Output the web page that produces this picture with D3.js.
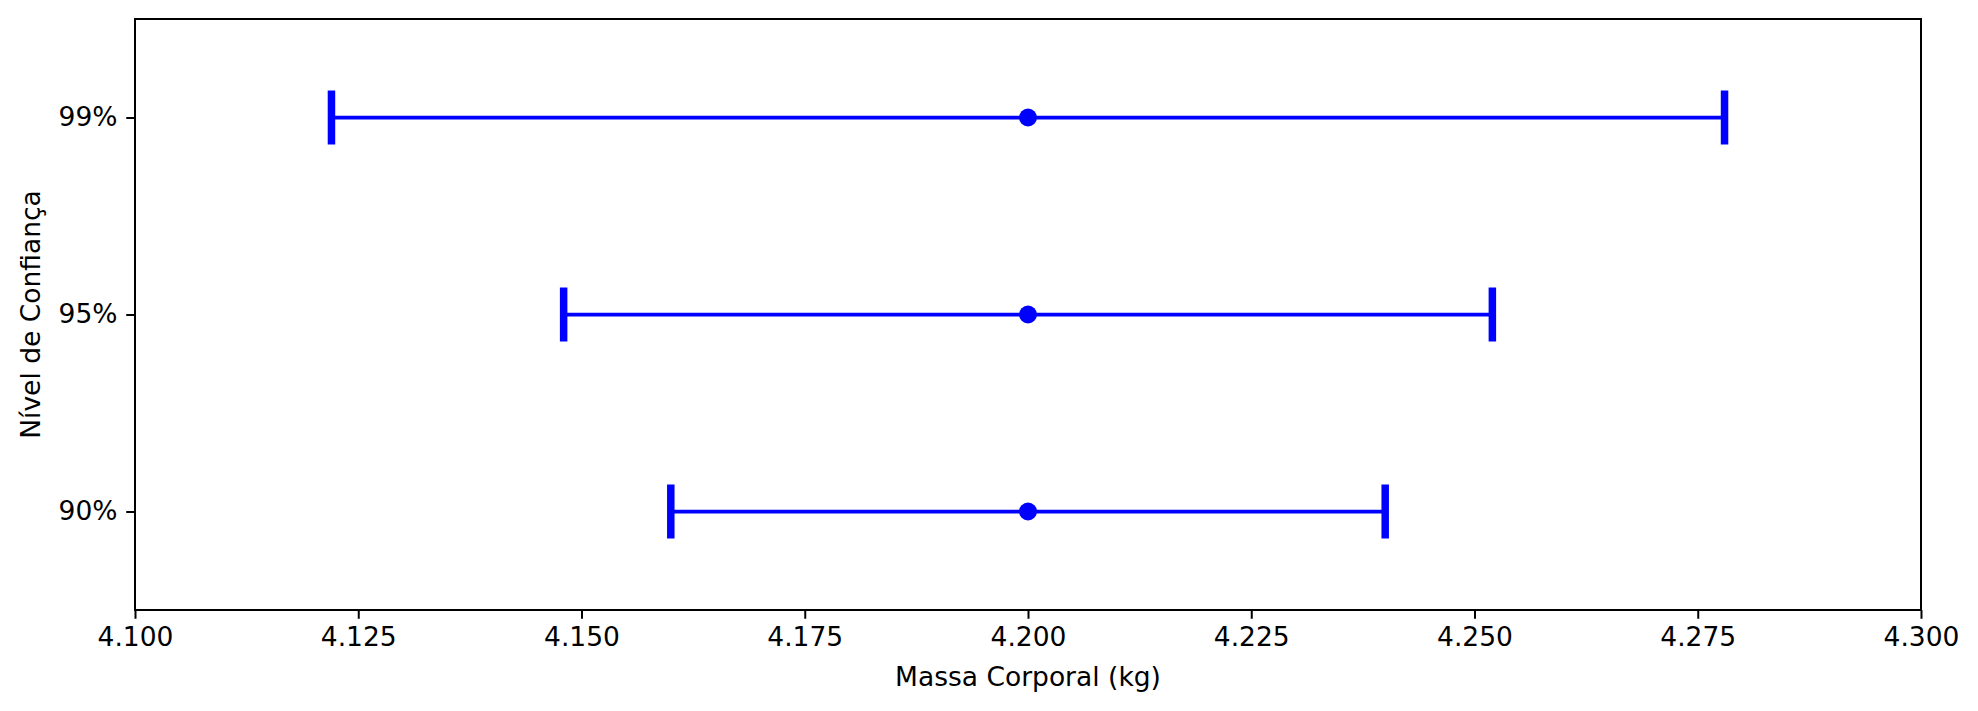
<!DOCTYPE html>
<html>
<head>
<meta charset="utf-8">
<script src="https://cdn.jsdelivr.net/npm/d3@7"></script>
<style>
  body { margin: 0; background: #fff; }
  text { font-family: "DejaVu Sans", sans-serif; }
</style>
</head>
<body>
<div id="chart"></div>
<script>
// data
var levels = ['99%', '95%', '90%'];
var means = [4.2, 4.2, 4.2];
var lower = [4.122, 4.148, 4.160];
var upper = [4.278, 4.252, 4.240];
var xTicks = [4.100, 4.125, 4.150, 4.175, 4.200, 4.225, 4.250, 4.275, 4.300];

var width = 1978, height = 711;
var margin = {left: 135, right: 57, top: 19, bottom: 101};
var plotW = width - margin.left - margin.right;
var plotH = height - margin.top - margin.bottom;
var fontSize = '26.5px';

var svg = d3.select('#chart').append('svg')
  .attr('width', width)
  .attr('height', height);

var g = svg.append('g')
  .attr('transform', 'translate(' + margin.left + ',' + margin.top + ')');

var x = d3.scaleLinear().domain([4.1, 4.3]).range([0, plotW]);
var y = d3.scalePoint().domain(levels).range([0, plotH]).padding(0.5);

var rows = levels.map(function(l, i) {
  return {level: l, mean: means[i], lo: lower[i], hi: upper[i]};
});

// error bars
var blue = '#0000ff';
var capHalf = 27;

g.selectAll('.err').data(rows).enter().append('line')
  .attr('x1', function(d) { return x(d.lo); })
  .attr('x2', function(d) { return x(d.hi); })
  .attr('y1', function(d) { return y(d.level); })
  .attr('y2', function(d) { return y(d.level); })
  .attr('stroke', blue)
  .attr('stroke-width', 3.75);

['lo', 'hi'].forEach(function(k) {
  g.selectAll('.cap-' + k).data(rows).enter().append('line')
    .attr('x1', function(d) { return x(d[k]); })
    .attr('x2', function(d) { return x(d[k]); })
    .attr('y1', function(d) { return y(d.level) - capHalf; })
    .attr('y2', function(d) { return y(d.level) + capHalf; })
    .attr('stroke', blue)
    .attr('stroke-width', 7.5);
});

g.selectAll('.dot').data(rows).enter().append('circle')
  .attr('cx', function(d) { return x(d.mean); })
  .attr('cy', function(d) { return y(d.level); })
  .attr('r', 9)
  .attr('fill', blue);

// axes
var xAxis = g.append('g')
  .attr('transform', 'translate(0,' + plotH + ')')
  .call(d3.axisBottom(x).tickValues(xTicks).tickFormat(d3.format('.3f'))
    .tickSizeInner(8.75).tickSizeOuter(0).tickPadding(8.75));

var yAxis = g.append('g')
  .call(d3.axisLeft(y).tickSizeInner(8.75).tickSizeOuter(0).tickPadding(8.75));

[xAxis, yAxis].forEach(function(a) {
  a.select('.domain').remove();
  a.selectAll('.tick line').attr('stroke', '#000').attr('stroke-width', 2);
  a.selectAll('.tick text').attr('fill', '#000').style('font-size', fontSize);
});

// frame
g.append('rect')
  .attr('width', plotW)
  .attr('height', plotH)
  .attr('fill', 'none')
  .attr('stroke', '#000')
  .attr('stroke-width', 2);

// labels
svg.append('text')
  .attr('x', margin.left + plotW / 2)
  .attr('y', 677)
  .attr('dy', '0.35em')
  .attr('text-anchor', 'middle')
  .style('font-size', fontSize)
  .text('Massa Corporal (kg)');

svg.append('text')
  .attr('transform', 'translate(31,' + (margin.top + plotH / 2) + ') rotate(-90)')
  .attr('dy', '0.35em')
  .attr('text-anchor', 'middle')
  .style('font-size', fontSize)
  .text('Nível de Confiança');
</script>
</body>
</html>
